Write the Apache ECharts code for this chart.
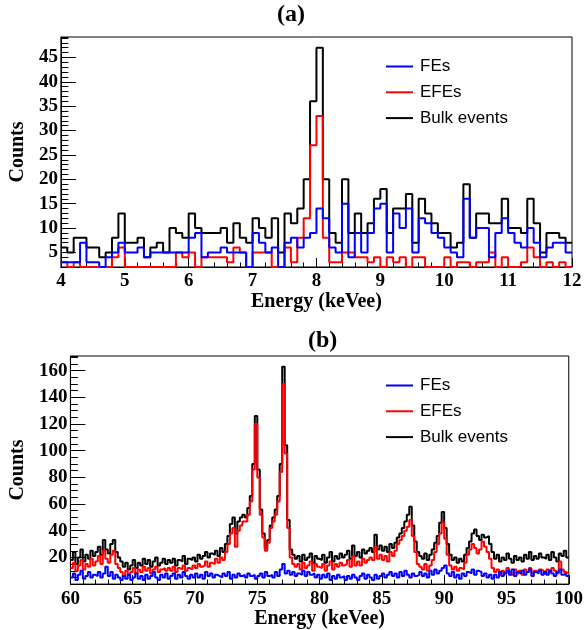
<!DOCTYPE html>
<html>
<head>
<meta charset="utf-8">
<script src="https://cdn.jsdelivr.net/npm/echarts@6/dist/echarts.min.js"></script>
<style>
  html, body { margin: 0; padding: 0; background: #fff; }
  #chart { width: 586px; height: 630px; }
</style>
</head>
<body>
<div id="chart"></div>
<script>
// ---- panel (a): 4-12 keVee, 0.1 keV bins ----
const binLowA = 4, binWidthA = 0.1;
const blueA = [3,3,3,7,3,3,2,4,5,7, 5,5,6,4,5,5,5,5,5,5, 8,9,4,5,5,6,5,5,5,2, 9,7,5,6,2,7,8,6,8,9,
               14,12,6,5,15,4,9,5,9,14, 15,5,13,10,14,5,12,11,9,8, 6,5,4,16,8,10,10,4,9,12, 9,7,6,10,7,4,6,7,7,5];
const redA = [3,2,3,2,2,2,2,2,4,6, 2,2,2,2,2,2,2,2,5,4, 5,2,4,4,4,4,3,6,5,2, 5,5,5,2,2,6,3,8,12,27,
              33,8,3,3,5,5,4,4,3,4, 2,4,3,4,2,4,4,2,2,2, 4,2,3,3,2,3,3,5,2,4, 2,2,3,6,4,2,3,2,3,2];
const blackA = [6,5,8,8,6,6,4,5,8,13, 7,7,8,4,6,7,5,10,9,8, 13,10,9,9,9,10,7,11,8,7, 12,10,8,12,5,13,11,14,20,36,
                47,20,9,7,20,9,13,9,11,16, 18,9,14,14,17,7,16,13,11,9, 9,6,7,19,8,13,13,11,11,16, 10,10,9,16,11,5,9,9,8,7];
const xTicksA = [4,5,6,7,8,9,10,11,12];
const yTicksA = [5,10,15,20,25,30,35,40,45];

// ---- panel (b): 60-100 keVee, 0.2 keV bins ----
const binLowB = 60, binWidthB = 0.2;
const blueB = [5,8,3,7,10,4,6,9,5,7, 6,9,5,8,13,6,9,4,7,5, 3,6,4,7,3,5,8,4,6,3, 7,4,6,9,5,3,7,5,8,4,
               6,8,4,7,5,9,6,4,7,5, 8,5,7,4,9,6,8,5,7,6, 5,8,6,9,4,7,5,8,6,7, 5,8,6,7,4,6,8,5,9,6,
               7,5,9,6,11,15,8,10,7,9, 6,8,7,10,6,9,7,8,5,7, 4,7,5,8,3,6,4,7,5,6, 3,6,4,7,5,3,6,8,4,7,
               5,3,7,4,6,8,5,7,9,6, 8,5,9,6,10,7,5,8,6,7, 9,6,8,5,10,7,11,8,10,12, 14,8,6,9,5,7,4,8,6,9,
               8,11,7,10,9,6,8,5,7,4, 7,5,9,6,8,10,7,11,6,9, 8,10,7,9,11,6,9,8,10,7, 9,7,10,8,6,9,11,7,8,6];
const redB = [12,16,10,14,18,11,15,13,19,14, 17,21,15,25,19,16,22,25,15,12, 9,6,10,7,9,12,8,11,9,13, 10,12,8,11,13,9,11,12,10,12,
              10,13,9,12,11,14,10,12,11,14, 12,15,13,14,17,13,16,15,19,16, 20,18,24,30,38,42,28,40,44,47, 47,52,62,86,120,80,52,35,25,31,
              42,47,52,62,84,150,98,42,20,15, 13,15,11,16,12,14,17,10,15,13, 12,15,10,14,17,11,15,13,16,14, 15,18,13,21,14,17,14,19,16,18,
              20,18,28,19,22,18,21,17,24,21, 25,30,33,36,40,43,48,36,24,15, 13,11,15,10,14,18,24,30,38,46, 34,22,14,11,13,10,12,11,16,22,
              26,30,27,23,26,32,28,24,19,12, 9,11,7,10,8,12,9,7,11,8, 10,7,11,9,12,8,10,9,11,10, 8,11,9,12,10,8,17,11,9,8];
const blackB = [18,24,15,20,26,17,22,19,25,21, 24,28,22,33,26,23,30,33,24,20, 17,13,16,11,14,18,12,16,14,19, 15,18,13,17,20,14,16,19,15,18,
                16,19,14,18,17,21,15,19,18,20, 17,22,19,21,24,20,23,22,25,21, 27,24,30,36,45,50,38,47,50,52, 50,57,66,90,126,86,56,38,27,33,
                44,50,56,66,90,163,104,48,26,22, 19,21,17,22,18,20,23,16,21,19, 18,22,16,20,24,17,21,19,23,20, 22,25,19,29,21,24,20,26,23,25,
                27,24,37,26,29,25,28,24,30,27, 31,35,38,42,47,52,58,44,32,24, 21,19,23,18,22,26,31,36,46,54, 42,30,22,18,20,16,19,17,22,27,
                32,38,41,36,33,37,35,36,30,24, 19,22,17,20,18,23,19,16,21,18, 20,17,22,19,24,18,21,19,23,20, 19,22,18,24,20,17,23,21,25,20];
const xTicksB = [60,65,70,75,80,85,90,95,100];
const yTicksB = [20,40,60,80,100,120,140,160];

const names = ['FEs', 'EFEs', 'Bulk events'];

// histogram -> step points (low edges + closing point)
function hist(lo, w, vals) {
  const pts = vals.map((v, i) => [lo + i * w, v]);
  pts.push([lo + vals.length * w, vals[vals.length - 1]]);
  return pts;
}

const serif = 'Liberation Serif';
const tickFont = { fontFamily: serif, fontWeight: 'bold', fontSize: 19, color: '#000' };
const nameFont = { fontFamily: serif, fontWeight: 'bold', fontSize: 20, color: '#000' };
const black = { color: '#000', width: 1 };

function xAxisOf(gi, ticks) {
  return {
    gridIndex: gi, type: 'value',
    min: ticks[0], max: ticks[ticks.length - 1], interval: ticks[1] - ticks[0],
    axisLine: { show: true, onZero: false, lineStyle: black },
    axisTick: { show: true, inside: true, length: 9, lineStyle: black },
    minorTick: { show: true, splitNumber: 5, length: 4.5, lineStyle: black },
    splitLine: { show: false },
    axisLabel: Object.assign({ margin: 5 }, tickFont),
    name: 'Energy (keVee)', nameLocation: 'middle', nameGap: 23, nameTextStyle: nameFont
  };
}
// big ticks and labels only at the listed values
function yAxisOf(gi, lo, hi, step, ticks) {
  return {
    gridIndex: gi, type: 'value', position: 'left',
    min: lo, max: hi, interval: step,
    axisLine: { show: true, onZero: false, lineStyle: black },
    axisTick: { show: true, inside: true, length: 15, lineStyle: black, customValues: ticks },
    splitLine: { show: false },
    axisLabel: Object.assign({ margin: 3, customValues: ticks }, tickFont),
    name: 'Counts', nameLocation: 'middle', nameRotate: 90, nameGap: 32, nameTextStyle: nameFont
  };
}
// hidden axis used only for the small ticks
function yMinorOf(gi, lo, hi, step) {
  return {
    gridIndex: gi, type: 'value', position: 'left', offset: 0,
    min: lo, max: hi, interval: step,
    axisLine: { show: false },
    axisTick: { show: true, inside: true, length: 7.5, lineStyle: black },
    axisLabel: { show: false },
    splitLine: { show: false }
  };
}
function line(name, color, xi, yi, data) {
  return {
    name: name, type: 'line', step: 'end', xAxisIndex: xi, yAxisIndex: yi,
    data: data, symbol: 'none', silent: true,
    lineStyle: { color: color, width: 2 }, itemStyle: { color: color }
  };
}
function legendAt(top) {
  return {
    data: names, left: 386, top: top, orient: 'vertical', padding: 0,
    icon: 'rect', itemWidth: 27, itemHeight: 2, itemGap: 8.8, selectedMode: false,
    textStyle: { fontFamily: 'Liberation Sans', fontSize: 17, color: '#000', padding: [0, 0, 0, 2] }
  };
}

const chart = echarts.init(document.getElementById('chart'));
chart.setOption({
  animation: false,
  backgroundColor: '#fff',
  title: [
    { text: '(a)', left: 277, top: 3, padding: 0, textStyle: { fontFamily: serif, fontWeight: 'bold', fontSize: 24, color: '#000' } },
    { text: '(b)', left: 308, top: 329, padding: 0, textStyle: { fontFamily: serif, fontWeight: 'bold', fontSize: 24, color: '#000' } }
  ],
  legend: [legendAt(58), legendAt(377)],
  grid: [
    { left: 59, top: 37, width: 513, height: 230, show: true, borderColor: '#000', borderWidth: 1 },
    { left: 59, top: 356, width: 513, height: 231, show: true, borderColor: '#000', borderWidth: 1 }
  ],
  xAxis: [xAxisOf(0, xTicksA), xAxisOf(1, xTicksB)],
  yAxis: [
    yAxisOf(0, 2, 49.2, 1, yTicksA), yMinorOf(0, 2, 49.2, 1),
    yAxisOf(1, 0, 171, 5, yTicksB), yMinorOf(1, 0, 171, 5)
  ],
  series: [
    line('Bulk events', '#000000', 0, 0, hist(binLowA, binWidthA, blackA)),
    line('EFEs', '#ff0000', 0, 0, hist(binLowA, binWidthA, redA)),
    line('FEs', '#0000ff', 0, 0, hist(binLowA, binWidthA, blueA)),
    line('Bulk events', '#000000', 1, 2, hist(binLowB, binWidthB, blackB)),
    line('EFEs', '#ff0000', 1, 2, hist(binLowB, binWidthB, redB)),
    line('FEs', '#0000ff', 1, 2, hist(binLowB, binWidthB, blueB))
  ]
});
</script>
</body>
</html>
